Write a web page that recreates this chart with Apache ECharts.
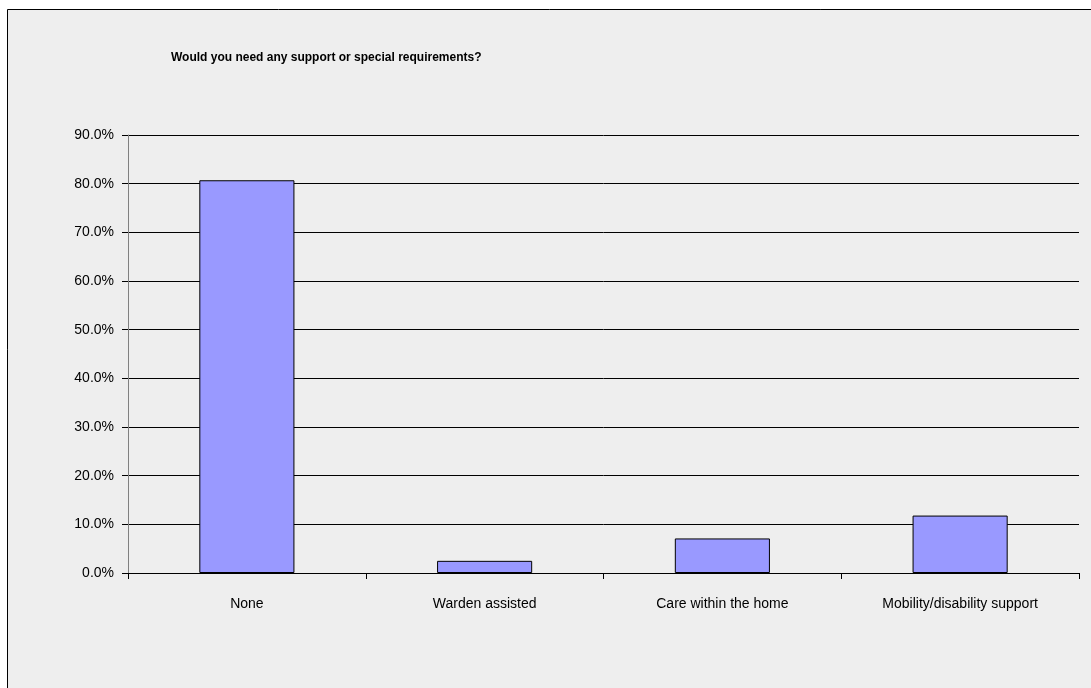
<!DOCTYPE html>
<html><head><meta charset="utf-8">
<script src="https://cdn.jsdelivr.net/npm/echarts@6/dist/echarts.min.js"></script>
<style>html,body{margin:0;padding:0;background:#fff}#c{width:1091px;height:688px}</style>
</head><body><div id="c"></div>
<script>
const categories = ["None", "Warden assisted", "Care within the home", "Mobility/disability support"];
const values = [80.7, 2.5, 7.1, 11.8];
const titleText = "Would you need any support or special requirements?";
const FONT = "'Liberation Sans Narrow', 'Arial Narrow', 'Liberation Sans', sans-serif";

const chart = echarts.init(document.getElementById('c'), null, {renderer: 'canvas'});
chart.setOption({
  backgroundColor: '#ffffff',
  animation: false,
  graphic: [{
    type: 'rect', z: -10, silent: true,
    shape: {x: 7.5, y: 9.5, width: 1200, height: 800},
    style: {fill: '#eeeeee', stroke: '#000000', lineWidth: 1}
  }],
  title: {
    text: titleText, left: 166, top: 47,
    textStyle: {fontFamily: FONT, fontSize: 12, fontWeight: 'bold', color: '#000'}
  },
  grid: {left: 128, right: 12, top: 135, bottom: 115, containLabel: false},
  xAxis: {
    type: 'category', data: categories,
    axisLine: {lineStyle: {color: '#000', width: 1}},
    axisTick: {show: true, length: 6, lineStyle: {color: '#000'}, alignWithLabel: false},
    axisLabel: {fontFamily: FONT, fontSize: 14, color: '#000', margin: 24}
  },
  yAxis: {
    type: 'value', min: 0, max: 90, interval: 10,
    axisLine: {show: true, lineStyle: {color: '#808080', width: 1}},
    axisTick: {show: true, length: 6, lineStyle: {color: '#000'}},
    axisLabel: {fontFamily: FONT, fontSize: 14, color: '#000', margin: 14,
      formatter: v => v.toFixed(1) + '%'},
    splitLine: {show: true, lineStyle: {color: '#000', width: 1}}
  },
  series: [{
    type: 'bar', data: values, barWidth: '40%',
    itemStyle: {color: '#9999ff', borderColor: '#000', borderWidth: 1}
  }]
});
</script></body></html>
